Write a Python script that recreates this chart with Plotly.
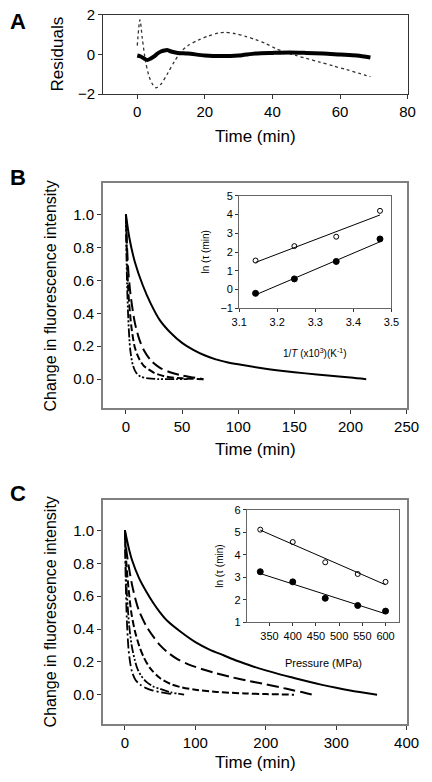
import plotly.graph_objects as go

W, H = 432, 782

# ---------------- Data ----------------
# Panel A residuals
a_t_band = [0, 1, 2, 3, 4, 5, 6, 7, 8, 9, 10, 12, 15, 20, 25, 30, 35, 40, 45, 50, 55, 60, 65, 69]
a_v_band = [-0.05, -0.1, -0.2, -0.28, -0.2, -0.1, 0.05, 0.15, 0.2, 0.22, 0.15, 0.08, 0.05, -0.05, -0.08,
            -0.05, 0.05, 0.08, 0.1, 0.08, 0.05, 0.0, -0.05, -0.15]
a_t_dot = [0, 0.8, 1.5, 2.5, 3.5, 4.5, 5.5, 7, 9, 11, 13, 15, 18, 21, 24, 26, 29, 32, 35, 38, 41, 44, 47,
           50, 54, 58, 62, 66, 69]
a_v_dot = [0.45, 1.75, 0.8, -0.4, -1.1, -1.5, -1.68, -1.5, -0.95, -0.35, 0.15, 0.45, 0.72, 0.93, 1.08, 1.12,
           1.05, 0.92, 0.75, 0.55, 0.3, 0.1, -0.05, -0.2, -0.38, -0.58, -0.77, -0.97, -1.12]

# Panel B main curves
b1_t = [0, 3, 8, 15, 22, 30, 40, 50, 60, 70, 80, 90, 100, 120, 140, 160, 180, 200, 214]
b1_y = [1.0, 0.86, 0.71, 0.57, 0.46, 0.36, 0.28, 0.22, 0.178, 0.145, 0.12, 0.103, 0.09, 0.068, 0.05,
        0.035, 0.022, 0.01, 0.0]
b2_t = [0, 1, 2.3, 4, 6, 8, 12, 16, 22, 30, 40, 50, 60, 69]
b2_y = [1, 0.8, 0.64, 0.52, 0.42, 0.34, 0.24, 0.175, 0.115, 0.07, 0.04, 0.022, 0.01, 0]
b3_t = [0, 1, 2, 3, 5, 8, 12, 16, 20, 26, 36, 50, 69]
b3_y = [1, 0.72, 0.55, 0.45, 0.31, 0.19, 0.12, 0.08, 0.06, 0.035, 0.015, 0.005, 0]
b4_t = [0, 0.5, 1, 2, 3, 4, 6, 9, 13, 20, 30, 45, 55]
b4_y = [1, 0.75, 0.58, 0.38, 0.25, 0.17, 0.09, 0.04, 0.015, 0.005, 0.0, 0.0, 0.0]

# Panel B inset
bi_x = [3.143, 3.245, 3.355, 3.47]
bi_open = [1.55, 2.32, 2.82, 4.2]
bi_fill = [-0.2, 0.57, 1.5, 2.7]
bi_fit_x = [3.143, 3.47]
bi_fit_open = [1.45, 3.98]
bi_fit_fill = [-0.28, 2.55]

# Panel C main curves
c1_t = [0, 5, 10, 20, 30, 40, 50, 60, 80, 100, 120, 140, 160, 180, 200, 220, 240, 260, 280, 300, 320,
        340, 358]
c1_y = [1, 0.9, 0.82, 0.71, 0.63, 0.56, 0.5, 0.45, 0.38, 0.32, 0.275, 0.24, 0.205, 0.175, 0.148, 0.124,
        0.102, 0.08, 0.06, 0.042, 0.026, 0.012, 0]
c2_t = [0, 2, 5, 10, 15, 20, 30, 40, 50, 60, 75, 90, 110, 130, 150, 175, 200, 220, 240, 255, 266]
c2_y = [1, 0.88, 0.79, 0.67, 0.58, 0.51, 0.42, 0.355, 0.3, 0.26, 0.215, 0.185, 0.155, 0.13, 0.108, 0.085,
        0.063, 0.045, 0.026, 0.012, 0]
c3_t = [0, 2, 5, 9, 14, 20, 27, 36, 50, 65, 80, 100, 130, 170, 200, 240]
c3_y = [1, 0.8, 0.65, 0.5, 0.39, 0.3, 0.225, 0.16, 0.1, 0.065, 0.045, 0.03, 0.017, 0.008, 0.004, 0]
c4_t = [0, 1, 2, 4, 6, 9.5, 14, 18, 23, 30, 40, 50, 65, 84]
c4_y = [1, 0.8, 0.67, 0.53, 0.42, 0.3, 0.21, 0.155, 0.115, 0.08, 0.05, 0.035, 0.015, 0]
c5_t = [0, 1, 2.7, 5, 7.2, 10, 15, 22, 30, 40, 50, 60, 68]
c5_y = [1, 0.7, 0.45, 0.28, 0.2, 0.14, 0.09, 0.06, 0.04, 0.025, 0.015, 0.008, 0.005]

# Panel C inset
ci_x = [330, 400, 470, 540, 600]
ci_open = [5.12, 4.57, 3.67, 3.15, 2.8]
ci_fill = [3.25, 2.8, 2.07, 1.75, 1.5]
ci_fit_x = [330, 600]
ci_fit_open = [5.1, 2.67]
ci_fit_fill = [3.17, 1.38]

# ---------------- helpers ----------------
def dx(p):
    return p / W

def dy(p):
    return 1 - p / H

FONT = "Liberation Sans, Arial, sans-serif"

fig = go.Figure()

def line(x, y, xa, ya, dash="solid", width=1.8, color="black", shape="spline"):
    fig.add_trace(go.Scatter(x=x, y=y, xaxis=xa, yaxis=ya, mode="lines",
                             line=dict(color=color, width=width, dash=dash, shape=shape, smoothing=0.8),
                             showlegend=False, hoverinfo="skip"))

def pts(x, y, xa, ya, filled):
    fig.add_trace(go.Scatter(x=x, y=y, xaxis=xa, yaxis=ya, mode="markers",
                             marker=dict(size=6 if filled else 5, symbol="circle" if filled else "circle-open",
                                         color="black", line=dict(color="black", width=1)),
                             showlegend=False, hoverinfo="skip"))

# Panel A
line(a_t_dot, a_v_dot, "x", "y", dash="dot", width=1.3, color="#333")
line(a_t_band, a_v_band, "x", "y", width=4, color="black")

# Panel B
line(b1_t, b1_y, "x2", "y2", dash="solid", width=2)
line(b2_t, b2_y, "x2", "y2", dash="12px,5px", width=2)
line(b3_t, b3_y, "x2", "y2", dash="7px,3px", width=2)
line(b4_t, b4_y, "x2", "y2", dash="9px,2px,2px,2px,2px,2px", width=1.8)
line(bi_fit_x, bi_fit_open, "x3", "y3", width=1, shape="linear")
line(bi_fit_x, bi_fit_fill, "x3", "y3", width=1, shape="linear")
pts(bi_x, bi_open, "x3", "y3", False)
pts(bi_x, bi_fill, "x3", "y3", True)

# Panel C
line(c1_t, c1_y, "x4", "y4", dash="solid", width=2)
line(c2_t, c2_y, "x4", "y4", dash="12px,5px", width=2)
line(c3_t, c3_y, "x4", "y4", dash="7px,3px", width=2)
line(c4_t, c4_y, "x4", "y4", dash="9px,2px,2px,2px,2px,2px", width=1.8)
line(c5_t, c5_y, "x4", "y4", dash="10px,3px,2px,3px", width=1.8)
line(ci_fit_x, ci_fit_open, "x5", "y5", width=1, shape="linear")
line(ci_fit_x, ci_fit_fill, "x5", "y5", width=1, shape="linear")
pts(ci_x, ci_open, "x5", "y5", False)
pts(ci_x, ci_fill, "x5", "y5", True)

def ax(domain, rng, tickvals, ticktext=None, color="#444", width=1, size=15, ticklen=4, anchor=None):
    d = dict(domain=domain, range=rng, tickvals=tickvals, showgrid=False, zeroline=False,
             showline=True, mirror=True, linecolor=color, linewidth=width,
             ticks="outside", ticklen=ticklen, tickcolor="#333", tickwidth=1,
             tickfont=dict(family=FONT, size=size, color="black"), anchor=anchor)
    if ticktext is not None:
        d["ticktext"] = ticktext
    return d

layout = dict(
    width=W, height=H, margin=dict(l=0, r=0, t=0, b=0),
    paper_bgcolor="white", plot_bgcolor="white", showlegend=False,
    font=dict(family=FONT, color="black"),
)
# A
layout["xaxis"] = ax([dx(100), dx(420)], [-10.1, 80], [0, 20, 40, 60, 80], anchor="y", color="#333")
layout["yaxis"] = ax([dy(87), dy(6)], [-2, 2], [-2, 0, 2], anchor="x", color="#333")
# B main
layout["xaxis2"] = ax([dx(100), dx(419)], [-20.3, 250], [0, 50, 100, 150, 200, 250], anchor="y2",
                      color="#808080", width=2)
layout["yaxis2"] = ax([dy(408), dy(178)], [-0.176, 1.19], [0, 0.2, 0.4, 0.6, 0.8, 1.0],
                      ["0.0", "0.2", "0.4", "0.6", "0.8", "1.0"], anchor="x2", color="#808080", width=2)
# B inset
layout["xaxis3"] = ax([dx(243), dx(403)], [3.1, 3.5], [3.1, 3.2, 3.3, 3.4, 3.5],
                      ["3.1", "3.2", "3.3", "3.4", "3.5"], anchor="y3", size=11, ticklen=3, color="#666")
layout["yaxis3"] = ax([dy(306), dy(191)], [-1, 5], [-1, 0, 1, 2, 3, 4, 5], anchor="x3", size=11,
                      ticklen=3, color="#666")
# C main
layout["xaxis4"] = ax([dx(100), dx(419)], [-31, 400], [0, 100, 200, 300, 400], anchor="y4",
                      color="#808080", width=2)
layout["yaxis4"] = ax([dy(731), dy(502)], [-0.179, 1.185], [0, 0.2, 0.4, 0.6, 0.8, 1.0],
                      ["0.0", "0.2", "0.4", "0.6", "0.8", "1.0"], anchor="x4", color="#808080", width=2)
# C inset
layout["xaxis5"] = ax([dx(251), dx(411)], [301, 629], [350, 400, 450, 500, 550, 600], anchor="y5",
                      size=11, ticklen=3, color="#666")
layout["yaxis5"] = ax([dy(627), dy(512)], [1, 6], [1, 2, 3, 4, 5, 6], anchor="x5", size=11,
                      ticklen=3, color="#666")

anns = []
def ann(text, x, y, size, angle=0, bold=False):
    anns.append(dict(text=("<b>%s</b>" % text) if bold else text, x=dx(x), y=dy(y), xref="paper",
                     yref="paper", showarrow=False, textangle=angle, xanchor="center", yanchor="middle",
                     font=dict(family=FONT, size=size, color="black")))

ann("A", 11, 13, 22, bold=True)
ann("B", 11, 172, 22, bold=True)
ann("C", 11, 495, 22, bold=True)
ann("Residuals", 52, 46, 17, angle=-90)
ann("Time (min)", 260, 130, 17)
ann("Change in fluorescence intensity", 45, 293, 16, angle=-90)
ann("Time (min)", 260, 450, 17)
ann("ln (τ (min)", 208, 248, 10, angle=-90)
ann("1/<i>T</i> (x10<sup>3</sup>)(K<sup>-1</sup>)", 323, 352, 10)
ann("Change in fluorescence intensity", 45, 616, 16, angle=-90)
ann("Time (min)", 260, 770, 17)
ann("ln (τ (min)", 222, 570, 10, angle=-90)
ann("Pressure (MPa)", 332, 669, 11)
layout["annotations"] = anns

fig.update_layout(**layout)
fig.write_html("out.html", config={"displayModeBar": False},
               post_script="document.body.style.margin='0';document.body.style.overflow='hidden';")
